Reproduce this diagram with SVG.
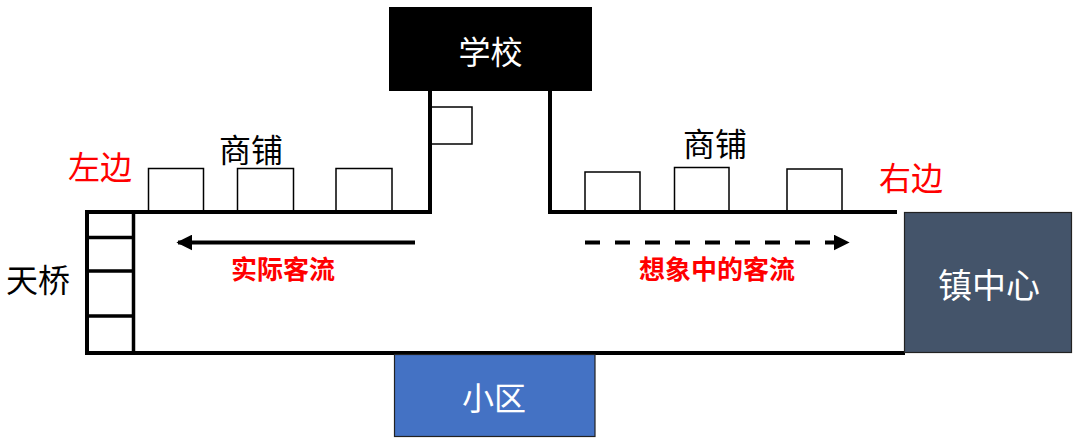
<svg xmlns="http://www.w3.org/2000/svg" width="1080" height="446" viewBox="0 0 1080 446">
<style>
text{font-family:"Noto Sans CJK SC","Noto Sans",sans-serif;text-anchor:middle;dominant-baseline:central}
.lbl{font-size:32px;fill:#000}
.red{font-size:32px;fill:#ff0000}
.flow{font-size:26px;fill:#ff0000;font-weight:bold}
.wt{font-size:32px;fill:#fff}
.shop{fill:#fff;stroke:#000;stroke-width:1.5}
.road{fill:none;stroke:#000;stroke-width:4;stroke-linecap:square}
.bar{fill:none;stroke:#000;stroke-width:3.5}
</style>
<defs>
<marker id="ah" viewBox="0 0 10 10" refX="9" refY="5" markerWidth="4" markerHeight="4" orient="auto" markerUnits="strokeWidth">
<path d="M0,0 L10,5 L0,10 z" fill="#000"/>
</marker>
</defs>
<rect width="1080" height="446" fill="#fff"/>

<g id="shops-left">
<rect class="shop" x="148.5" y="168.5" width="55" height="43.5"/>
<rect class="shop" x="237.5" y="168.5" width="56" height="43.5"/>
<rect class="shop" x="336" y="168.5" width="56" height="43.5"/>
<rect class="shop" x="430" y="107" width="42" height="37"/>
<text class="lbl" x="251" y="148">商铺</text>
</g>
<g id="shops-right">
<rect class="shop" x="585" y="172" width="55" height="40"/>
<rect class="shop" x="674.5" y="167.5" width="54.5" height="44.5"/>
<rect class="shop" x="787" y="169" width="55" height="43"/>
<text class="lbl" x="715" y="142">商铺</text>
</g>

<g id="roads">
<path class="road" d="M430,91 V212 H87 V353 H903"/>
<path class="road" d="M550,91 V212 H895"/>
</g>

<g id="bridge">
<path class="bar" d="M133.5,212 V353 M87,237.5 H133.5 M87,271 H133.5 M87,316 H133.5"/>
<text class="lbl" x="38" y="278">天桥</text>
</g>

<g id="school">
<rect x="389" y="7" width="203" height="84" fill="#000"/>
<text class="wt" x="490.5" y="50">学校</text>
</g>

<g id="community">
<rect x="394.5" y="354.5" width="200.5" height="82" fill="#4472c4" stroke="#222" stroke-width="1.2"/>
<text class="wt" x="494" y="396">小区</text>
</g>

<g id="town-center">
<rect x="904.5" y="212.5" width="167" height="140" fill="#44546a" stroke="#222" stroke-width="1.2"/>
<text class="wt" x="989" y="283" style="font-size:34px">镇中心</text>
</g>

<g id="labels">
<text class="red" x="100" y="165">左边</text>
<text class="red" x="911" y="176">右边</text>
</g>

<g id="connectors">
<line x1="415" y1="242.5" x2="178" y2="242.5" stroke="#000" stroke-width="4" marker-end="url(#ah)"/>
<text class="flow" x="283" y="267">实际客流</text>
<line x1="585" y1="242.5" x2="848" y2="242.5" stroke="#000" stroke-width="4" stroke-dasharray="15 15" marker-end="url(#ah)"/>
<text class="flow" x="717" y="267">想象中的客流</text>
</g>
</svg>
